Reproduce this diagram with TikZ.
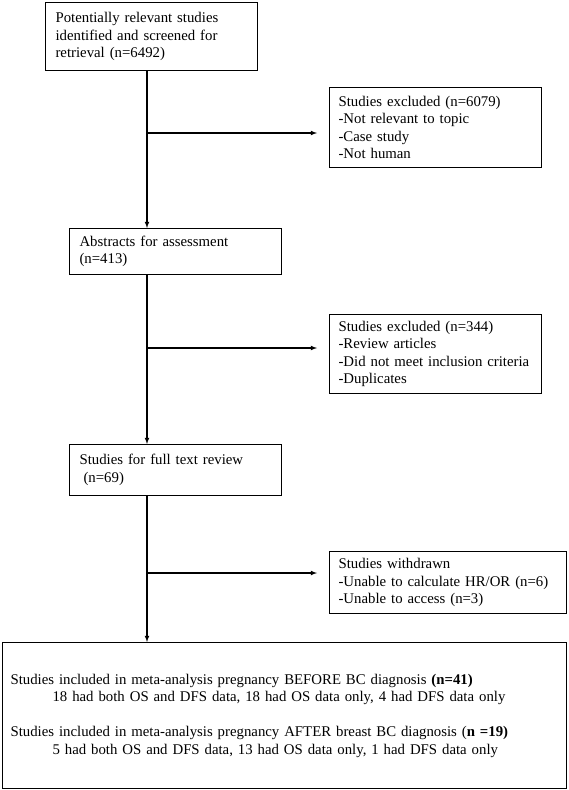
\documentclass[tikz,border=0pt]{standalone}
\usepackage{fontspec}
\setmainfont{Liberation Serif}

\begin{document}
\begin{tikzpicture}[x=1pt, y=-1pt, >=latex, line width=1.1pt,
    box/.style = {draw, anchor=north west, align=left, inner xsep=10pt, inner ysep=0pt,
                  font=\fontsize{14.8}{17.5}\selectfont},
    side/.style = {box, inner xsep=9pt, text width=194pt}]
        \useasboundingbox (0,0) rectangle (568,790);
        % main column
        \node[box, text width=192pt, minimum height=68pt] (ret) at (45,2)
            {Potentially relevant studies\\identified and screened for\\retrieval (n=6492)};
        \node[box, text width=192pt, minimum height=46pt] (abs) at (69,228)
            {Abstracts for assessment\\(n=413)};
        \node[box, text width=192pt, minimum height=51pt] (full) at (69,444)
            {Studies for full text review\\\hspace*{4pt}(n=69)};
        \node[box, inner xsep=8pt, text width=548pt, minimum height=146pt] (incl) at (2,642)
            {Studies included in meta-analysis pregnancy BEFORE BC diagnosis \textbf{(n=41)}\\
             \hspace*{42pt}18 had both OS and DFS data, 18 had OS data only, 4 had DFS data only\\[17.5pt]
             Studies included in meta-analysis pregnancy AFTER breast BC diagnosis (\textbf{n =19)}\\
             \hspace*{42pt}5 had both OS and DFS data, 13 had OS data only, 1 had DFS data only\\[10pt]};
        % excluded boxes
        \node[side, minimum height=80pt] (ex1) at (329,87)
            {Studies excluded (n=6079)\\-Not relevant to topic\\-Case study\\-Not human};
        \node[side, minimum height=79pt] (ex2) at (329,314)
            {Studies excluded (n=344)\\-Review articles\\-Did not meet inclusion criteria\\-Duplicates};
        \node[side, text width=219pt, minimum height=62pt] (wd) at (329,551)
            {Studies withdrawn\\-Unable to calculate HR/OR (n=6)\\-Unable to access (n=3)};
        % branch points
        \coordinate (b1) at (147,133);
        \coordinate (b2) at (147,348);
        \coordinate (b3) at (147,573);
        \draw[->] (ret.south -| b1) -- (abs.north -| b1);
        \draw[->] (abs.south -| b2) -- (full.north -| b2);
        \draw[->] (full.south -| b3) -- (incl.north -| b3);
        \draw[->, shorten >=12pt] (b1) -- (ex1.west |- b1);
        \draw[->, shorten >=12pt] (b2) -- (ex2.west |- b2);
        \draw[->, shorten >=12pt] (b3) -- (wd.west |- b3);
\end{tikzpicture}
\end{document}
